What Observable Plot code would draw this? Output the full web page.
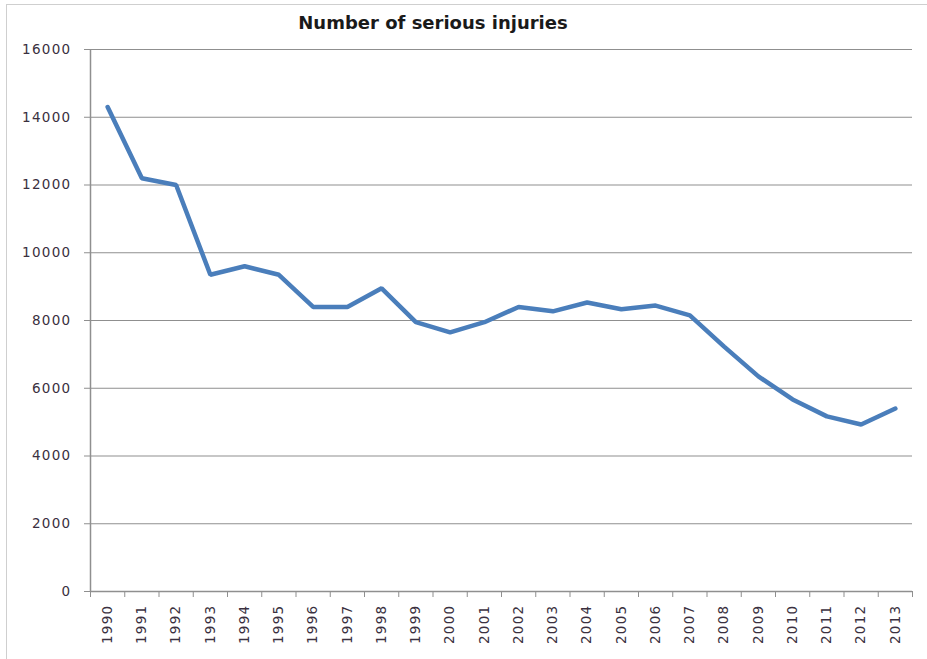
<!DOCTYPE html>
<html>
<head>
<meta charset="utf-8">
<script src="https://cdn.jsdelivr.net/npm/d3@7"></script>
<script src="https://cdn.jsdelivr.net/npm/@observablehq/plot@0.6"></script>
<style>
  html, body { margin: 0; padding: 0; background: #fff; }
  #wrap { position: relative; width: 927px; height: 659px; overflow: hidden; }
  #frame { position: absolute; left: 6px; top: 4px; width: 940px; height: 700px;
           border-left: 1px solid #cfcfcf; border-top: 1px solid #cfcfcf; }
  #title { position: absolute; left: 0; top: 12px; width: 866px; text-align: center;
           font-family: "DejaVu Sans", sans-serif; font-size: 18px; font-weight: bold; color: #1a1a1a; }
  #chart { position: absolute; left: 0; top: 0; }
  #chart text { letter-spacing: 1.3px; }
</style>
</head>
<body>
<div id="wrap">
  <div id="frame"></div>
  <div id="chart"></div>
  <div id="title">Number of serious injuries</div>
</div>
<script>
const years = ["1990","1991","1992","1993","1994","1995","1996","1997","1998","1999","2000","2001",
               "2002","2003","2004","2005","2006","2007","2008","2009","2010","2011","2012","2013"];
const injuries = [14300, 12200, 12000, 9350, 9600, 9350, 8400, 8400, 8950, 7950, 7650, 7950,
                  8400, 8270, 8530, 8330, 8440, 8150, 7230, 6350, 5670, 5170, 4930, 5400];
const yTicks = [0, 2000, 4000, 6000, 8000, 10000, 12000, 14000, 16000];

const data = years.map((y, i) => ({i, year: y, value: injuries[i]}));
const idx = d3.range(years.length);
const bounds = d3.range(years.length + 1).map(k => k - 0.5);

const gray = "#8f8f8f";
const textColor = "#3a3040";

const chart = Plot.plot({
  width: 927,
  height: 659,
  marginLeft: 90,
  marginRight: 15,
  marginTop: 49,
  marginBottom: 68,
  style: {fontFamily: "DejaVu Sans, sans-serif", fontSize: "13.5px", color: textColor, background: "transparent"},
  x: {type: "linear", domain: [-0.5, years.length - 0.5]},
  y: {domain: [0, 16000]},
  marks: [
    Plot.gridY(yTicks, {stroke: gray, strokeOpacity: 1, strokeWidth: 1}),
    Plot.ruleX([-0.5], {stroke: gray, strokeWidth: 1.5}),
    Plot.ruleY([0], {stroke: gray, strokeWidth: 1.5}),
    Plot.axisY(yTicks, {tickSize: 6, tickPadding: 13, stroke: gray, fill: textColor, tickFormat: d => String(d), label: null}),
    Plot.axisX(bounds, {tickSize: 6, stroke: gray, tickFormat: () => "", label: null}),
    Plot.axisX(idx, {tickSize: 0, tickPadding: 13, tickRotate: -90, fill: textColor, tickFormat: i => years[i], label: null}),
    Plot.line(data, {x: "i", y: "value", stroke: "#4a7ebb", strokeWidth: 4.5, strokeLinejoin: "miter"})
  ]
});
document.getElementById("chart").appendChild(chart);
</script>
</body>
</html>
